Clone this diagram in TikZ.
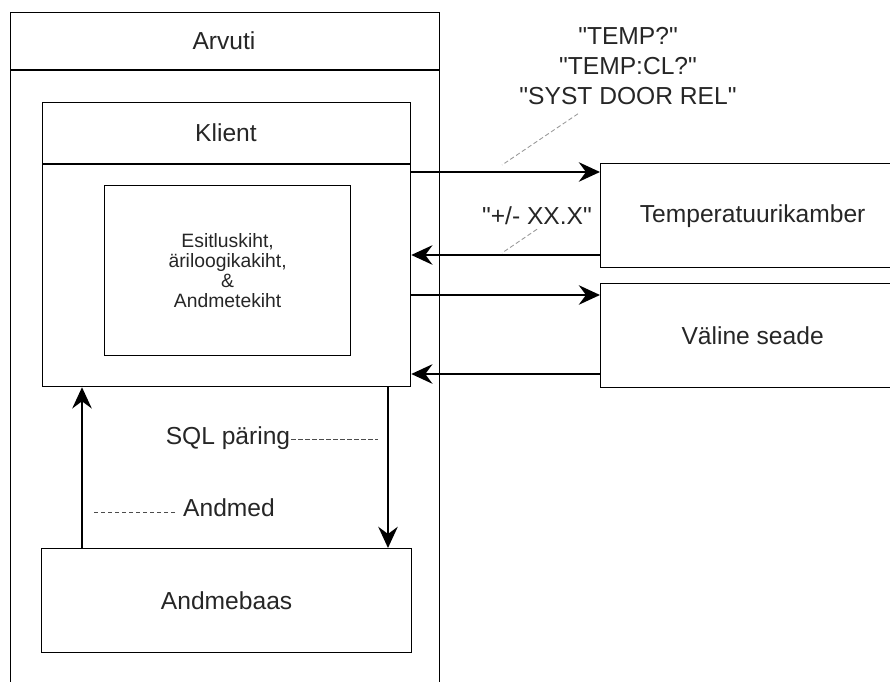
\documentclass[tikz,border=0pt]{standalone}
\usepackage{fontspec}
\setmainfont{Liberation Sans}[Ligatures=TeXOff]
\usetikzlibrary{positioning, arrows.meta}

\begin{document}
\begin{tikzpicture}[x=0.02cm,y=-0.02cm,
    box/.style={draw, line width=0.75pt, inner sep=0pt, anchor=north west},
    lbl/.style={text=black!85, font=\fontsize{14}{17}\selectfont},
    small/.style={text=black!85, font=\fontsize{11}{11.5}\selectfont, align=center},
    arr/.style={line width=1.7pt, -{Stealth[length=12pt,width=11pt,inset=4pt]}},
    hint/.style={black!70, dash pattern=on 2.5pt off 1.5pt, line width=0.5pt}]
  \useasboundingbox (0,0) rectangle (890,682);

  % Arvuti
  \node[box, minimum width=8.58cm, minimum height=13.8cm] (arvuti) at (10,12) {};
  \draw[line width=0.75pt] (arvuti.west |- 0,70) -- (arvuti.east |- 0,70);
  \node[lbl] (arvutiT) at (224,41) {Arvuti};

  % Klient
  \node[box, minimum width=7.36cm, minimum height=5.68cm] (klient) at (42,102) {};
  \draw[line width=0.75pt] (klient.west |- 0,164) -- (klient.east |- 0,164);
  \node[lbl] (klientT) at (226,133) {Klient};
  \node[box, minimum width=4.92cm, minimum height=3.4cm] (kihid) at (104,185) {};
  \node[small] (kihidT) at (kihid.center) {Esitluskiht,\\äriloogikakiht,\\\&\\Andmetekiht};

  % seadmed
  \node[box, minimum width=6.08cm, minimum height=2.08cm] (temp) at (600,163) {};
  \node[lbl] (tempT) at (temp.center) {Temperatuurikamber};
  \node[box, minimum width=6.08cm, minimum height=2.08cm] (vseade) at (600,283) {};
  \node[lbl] (vseadeT) at (vseade.center) {Väline seade};

  % Andmebaas
  \node[box, minimum width=7.4cm, minimum height=2.08cm] (andmebaas) at (41,548) {};
  \node[lbl] (andmebaasT) at (andmebaas.center) {Andmebaas};

  % nooled
  \draw[arr] (klient.east |- 0,172) -- (temp.west |- 0,172);
  \draw[arr] (temp.west |- 0,255) -- (klient.east |- 0,255);
  \draw[arr] (klient.east |- 0,295) -- (vseade.west |- 0,295);
  \draw[arr] (vseade.west |- 0,374) -- (klient.east |- 0,374);
  \draw[arr] (andmebaas.north -| 82,0) -- (klient.south -| 82,0);
  \draw[arr] (klient.south -| 388,0) -- (andmebaas.north -| 388,0);

  % sildid
  \node[lbl, align=center] (kasud) at (628,66) {"TEMP?"\\"TEMP:CL?"\\"SYST DOOR REL"};
  \node[lbl] (vastus) at (537,216) {"+/- XX.X"};
  \node[lbl] (sql) at (228,438) {SQL päring};
  \node[lbl] (andmed) at (229,508) {Andmed};

  \coordinate (kasudP) at (502,165);
  \coordinate (vastusP) at (502,253);
  \draw[hint, gray!80] (kasud.south) ++(-50,3) -- (kasudP);
  \draw[hint, gray!80] (vastus.south) ++(0,-2) -- (vastusP);
  \draw[hint] ([xshift=-3pt]sql.mid east) -- (sql.mid east -| 378,0);
  \draw[hint] ([xshift=-1pt]andmed.mid west) -- (andmed.mid west -| 92,0);
\end{tikzpicture}
\end{document}
